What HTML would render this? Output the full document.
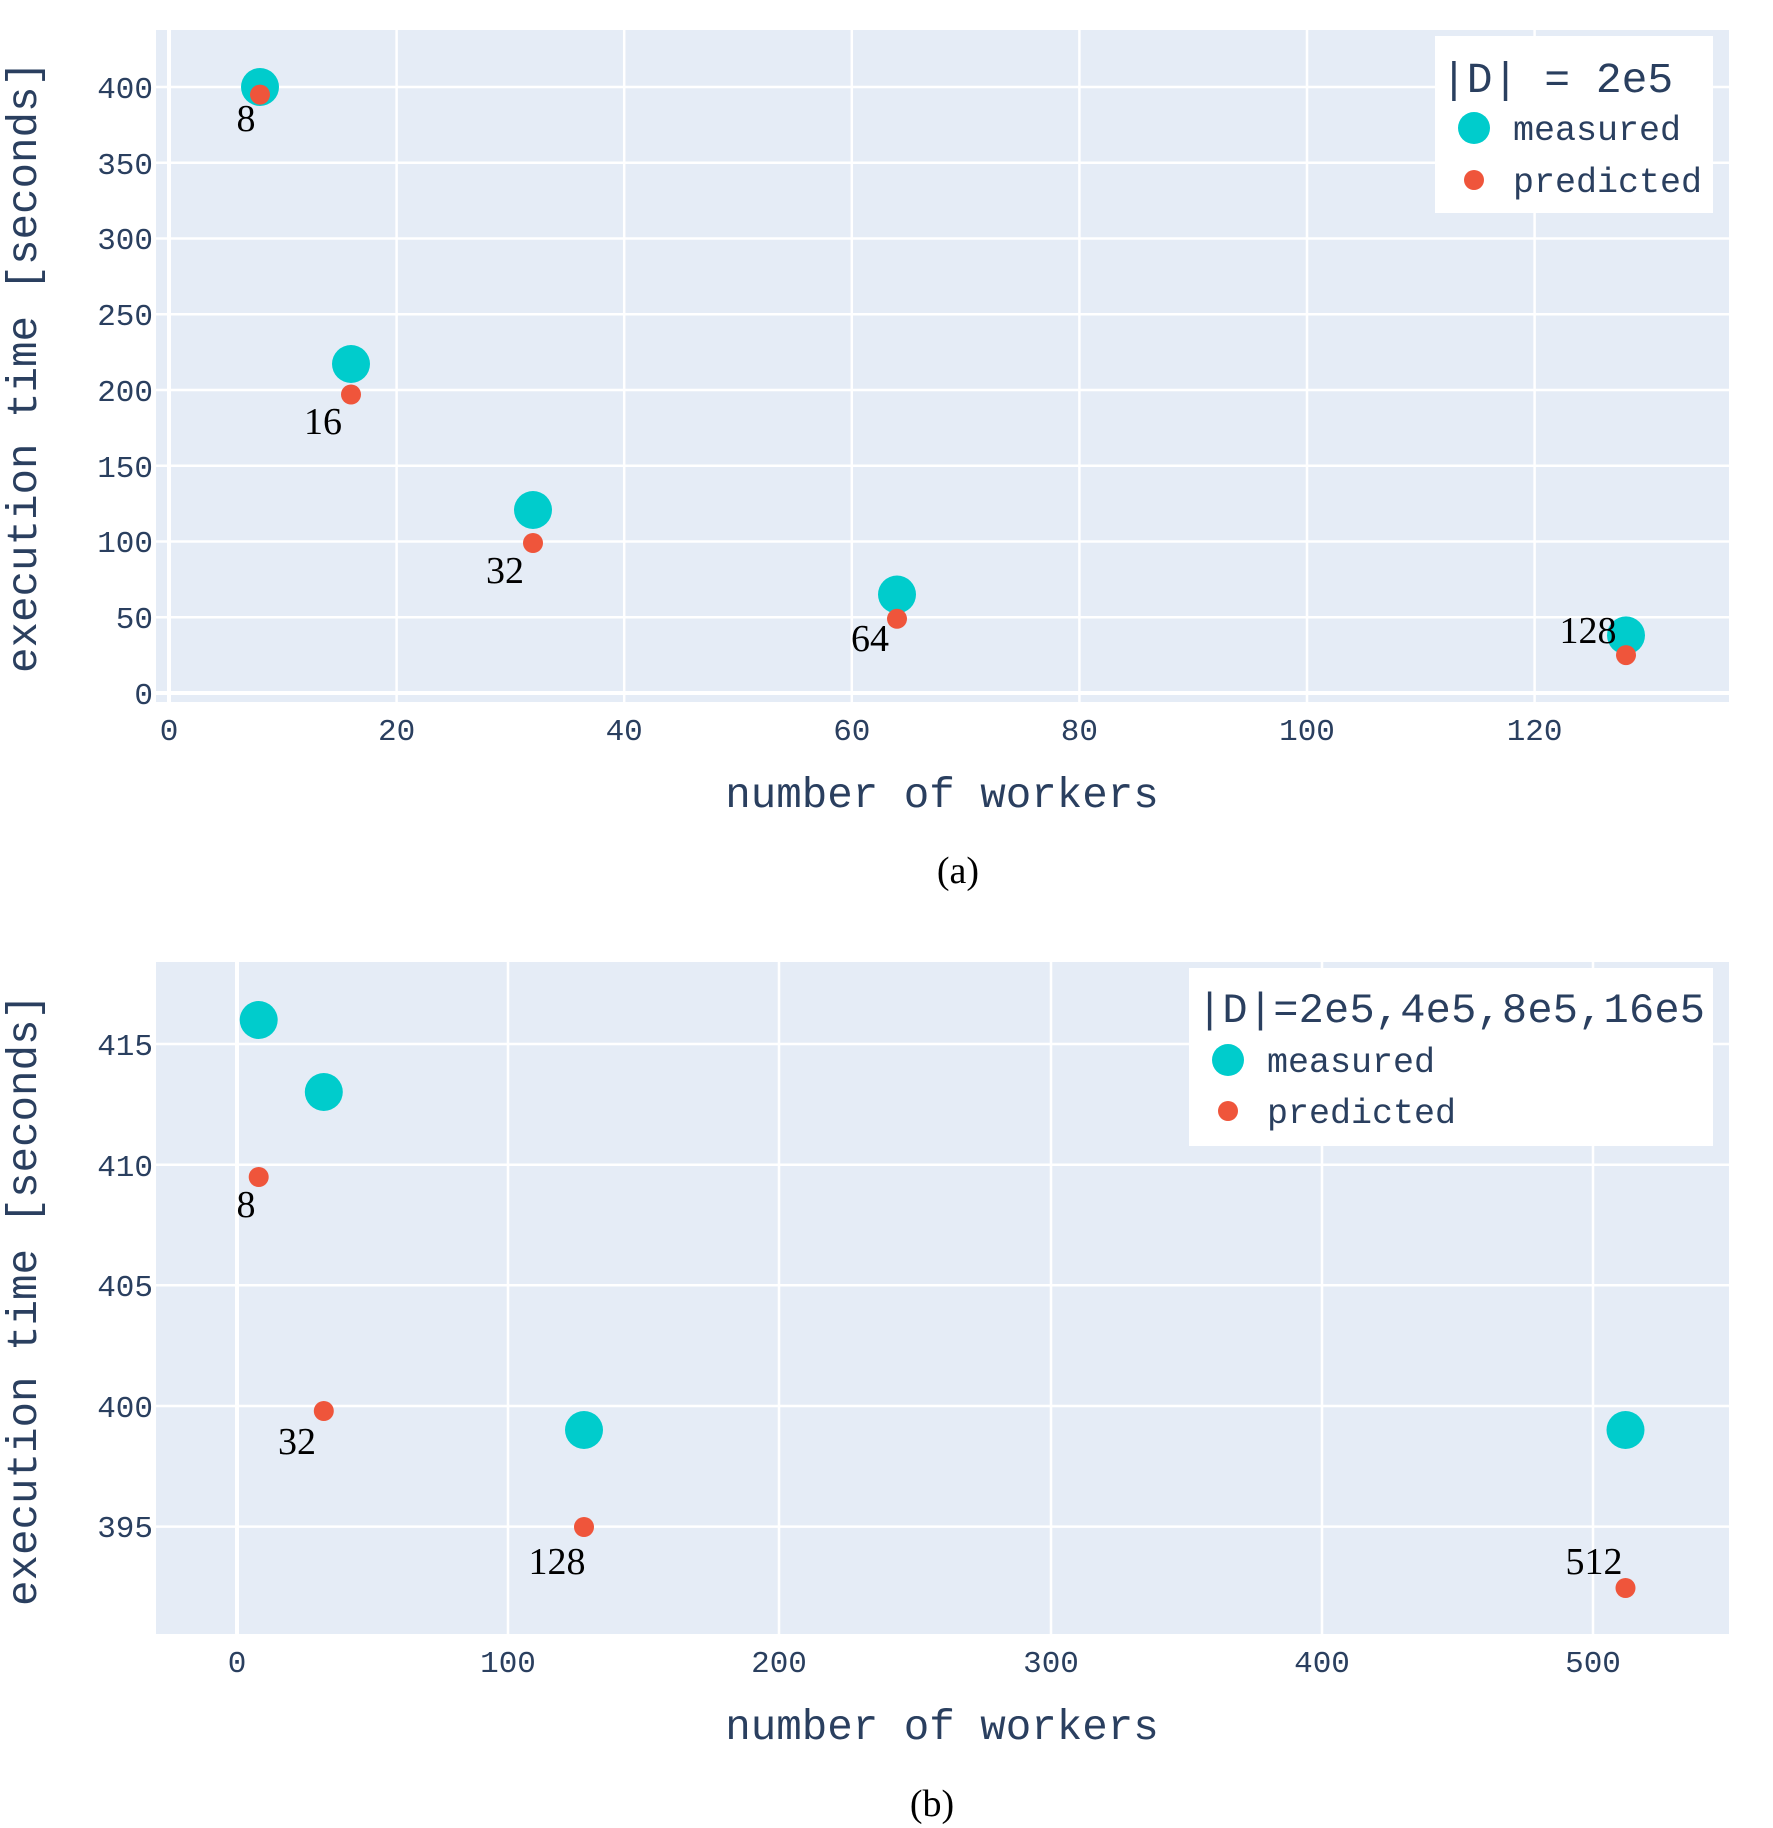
<!DOCTYPE html>
<html><head><meta charset="utf-8"><style>html,body{margin:0;padding:0;background:#fff}svg{display:block}</style></head>
<body>
<svg width="1773" height="1828" viewBox="0 0 1773 1828" xmlns="http://www.w3.org/2000/svg">
<rect width="1773" height="1828" fill="#fff"/>
<!-- Panel A -->
<rect x="156" y="30" width="1573" height="672" fill="#e5ecf6"/>
<g stroke="#fff" stroke-width="2.5">
<line x1="396.6" y1="30" x2="396.6" y2="702"/><line x1="624.2" y1="30" x2="624.2" y2="702"/><line x1="851.8" y1="30" x2="851.8" y2="702"/><line x1="1079.4" y1="30" x2="1079.4" y2="702"/><line x1="1307" y1="30" x2="1307" y2="702"/><line x1="1534.6" y1="30" x2="1534.6" y2="702"/>
<line x1="156" y1="617.3" x2="1729" y2="617.3"/><line x1="156" y1="541.5" x2="1729" y2="541.5"/><line x1="156" y1="465.8" x2="1729" y2="465.8"/><line x1="156" y1="390" x2="1729" y2="390"/><line x1="156" y1="314.3" x2="1729" y2="314.3"/><line x1="156" y1="238.5" x2="1729" y2="238.5"/><line x1="156" y1="162.8" x2="1729" y2="162.8"/><line x1="156" y1="87" x2="1729" y2="87"/>
</g>
<line x1="169" y1="30" x2="169" y2="702" stroke="#fff" stroke-width="4"/>
<line x1="156" y1="693" x2="1729" y2="693" stroke="#fff" stroke-width="4"/>
<g fill="#00cccc"><circle cx="260" cy="87" r="19"/><circle cx="351" cy="364" r="19"/><circle cx="533" cy="510" r="19"/><circle cx="897" cy="594.5" r="19"/><circle cx="1626" cy="635.4" r="19"/></g>
<g fill="#ef553b"><circle cx="260" cy="94.6" r="10"/><circle cx="351" cy="394.5" r="10"/><circle cx="533" cy="543" r="10"/><circle cx="897" cy="618.8" r="10"/><circle cx="1626" cy="655.1" r="10"/></g>
<g font-family="Liberation Serif, serif" font-size="38" fill="#000" text-anchor="middle">
<text x="246" y="131">8</text><text x="323" y="434">16</text><text x="505" y="583">32</text><text x="870" y="651">64</text><text x="1588" y="643">128</text>
</g>
<g font-family="Liberation Mono, monospace" font-size="31" fill="#2a3f5f">
<g text-anchor="end"><text x="153" y="704">0</text><text x="153" y="628">50</text><text x="153" y="552">100</text><text x="153" y="477">150</text><text x="153" y="401">200</text><text x="153" y="325">250</text><text x="153" y="249">300</text><text x="153" y="174">350</text><text x="153" y="98">400</text></g>
<g text-anchor="middle"><text x="169" y="740">0</text><text x="396.6" y="740">20</text><text x="624.2" y="740">40</text><text x="851.8" y="740">60</text><text x="1079.4" y="740">80</text><text x="1307" y="740">100</text><text x="1534.6" y="740">120</text></g>
</g>
<text x="942" y="807" font-family="Liberation Mono, monospace" font-size="42.5" fill="#2a3f5f" text-anchor="middle">number of workers</text>
<text transform="translate(36,367) rotate(-90)" font-family="Liberation Mono, monospace" font-size="42.5" fill="#2a3f5f" text-anchor="middle">execution time [seconds]</text>
<rect x="1435" y="36" width="278" height="177" fill="#fff"/>
<text x="1441" y="92" font-family="Liberation Mono, monospace" font-size="43" fill="#2a3f5f" xml:space="preserve">|D| = 2e5</text>
<circle cx="1474" cy="128" r="16" fill="#00cccc"/><circle cx="1474" cy="180" r="10" fill="#ef553b"/>
<g font-family="Liberation Mono, monospace" font-size="35" fill="#2a3f5f"><text x="1513" y="140">measured</text><text x="1513" y="192">predicted</text></g>
<text x="958" y="883" font-family="Liberation Serif, serif" font-size="38" fill="#000" text-anchor="middle">(a)</text>

<!-- Panel B -->
<rect x="156" y="962" width="1573" height="672" fill="#e5ecf6"/>
<g stroke="#fff" stroke-width="2.5">
<line x1="508" y1="962" x2="508" y2="1634"/><line x1="779" y1="962" x2="779" y2="1634"/><line x1="1051" y1="962" x2="1051" y2="1634"/><line x1="1322" y1="962" x2="1322" y2="1634"/><line x1="1593" y1="962" x2="1593" y2="1634"/>
<line x1="156" y1="1044" x2="1729" y2="1044"/><line x1="156" y1="1164.7" x2="1729" y2="1164.7"/><line x1="156" y1="1285.3" x2="1729" y2="1285.3"/><line x1="156" y1="1406" x2="1729" y2="1406"/><line x1="156" y1="1526.6" x2="1729" y2="1526.6"/>
</g>
<line x1="237" y1="962" x2="237" y2="1634" stroke="#fff" stroke-width="4"/>
<g fill="#00cccc"><circle cx="258.7" cy="1020" r="19"/><circle cx="323.8" cy="1092" r="19"/><circle cx="584" cy="1430" r="19"/><circle cx="1625.5" cy="1430" r="19"/></g>
<g fill="#ef553b"><circle cx="258.7" cy="1177" r="10"/><circle cx="323.8" cy="1411" r="10"/><circle cx="584" cy="1527" r="10"/><circle cx="1625.5" cy="1588" r="10"/></g>
<g font-family="Liberation Serif, serif" font-size="38" fill="#000" text-anchor="middle">
<text x="246" y="1217">8</text><text x="297" y="1454">32</text><text x="557" y="1574">128</text><text x="1594" y="1574">512</text>
</g>
<g font-family="Liberation Mono, monospace" font-size="31" fill="#2a3f5f">
<g text-anchor="end"><text x="153" y="1055">415</text><text x="153" y="1176">410</text><text x="153" y="1296">405</text><text x="153" y="1417">400</text><text x="153" y="1537">395</text></g>
<g text-anchor="middle"><text x="237" y="1672">0</text><text x="508" y="1672">100</text><text x="779" y="1672">200</text><text x="1051" y="1672">300</text><text x="1322" y="1672">400</text><text x="1593" y="1672">500</text></g>
</g>
<text x="942" y="1739" font-family="Liberation Mono, monospace" font-size="42.5" fill="#2a3f5f" text-anchor="middle">number of workers</text>
<text transform="translate(36,1300) rotate(-90)" font-family="Liberation Mono, monospace" font-size="42.5" fill="#2a3f5f" text-anchor="middle">execution time [seconds]</text>
<rect x="1189" y="968" width="524" height="178" fill="#fff"/>
<text x="1197" y="1022" font-family="Liberation Mono, monospace" font-size="42" fill="#2a3f5f" textLength="508">|D|=2e5,4e5,8e5,16e5</text>
<circle cx="1228" cy="1060" r="16" fill="#00cccc"/><circle cx="1228" cy="1111" r="10" fill="#ef553b"/>
<g font-family="Liberation Mono, monospace" font-size="35" fill="#2a3f5f"><text x="1267" y="1072">measured</text><text x="1267" y="1123">predicted</text></g>
<text x="932" y="1816" font-family="Liberation Serif, serif" font-size="38" fill="#000" text-anchor="middle">(b)</text>
</svg>
</body></html>
